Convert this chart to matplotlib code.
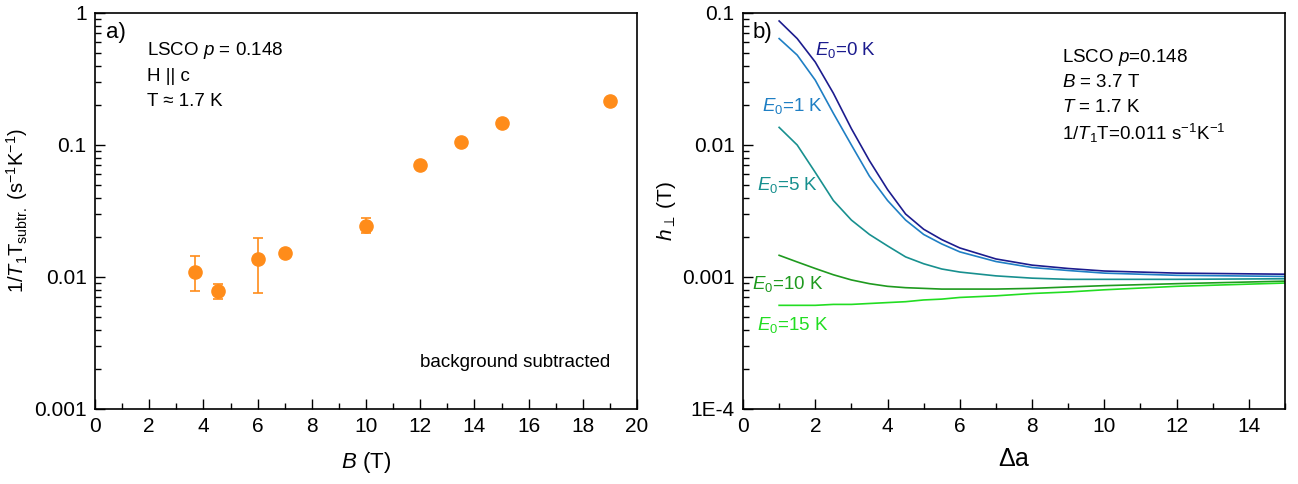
import matplotlib
matplotlib.use("Agg")
import matplotlib.pyplot as plt
import numpy as np
from matplotlib.ticker import FixedLocator, FixedFormatter, LogLocator, NullFormatter, MultipleLocator

plt.rcParams['font.family'] = ['Liberation Sans', 'DejaVu Sans']
plt.rcParams['mathtext.fontset'] = 'custom'
plt.rcParams['mathtext.rm'] = 'Liberation Sans'
plt.rcParams['mathtext.it'] = 'Liberation Sans:italic'
plt.rcParams['mathtext.bf'] = 'Liberation Sans:bold'

# Panel a data
B = [3.7, 4.55, 6.0, 7.0, 10.0, 12.0, 13.5, 15.0, 19.0]
rate = [0.011, 0.0078, 0.0137, 0.0153, 0.0245, 0.071, 0.105, 0.148, 0.215]
err_lo = [0.0078, 0.0068, 0.0075, 0.0153, 0.0215, 0.071, 0.105, 0.148, 0.215]
err_hi = [0.0143, 0.0089, 0.0197, 0.0153, 0.0280, 0.071, 0.105, 0.148, 0.215]

# Panel b data
da = [1, 1.5, 2, 2.5, 3, 3.5, 4, 4.5, 5, 5.5, 6, 7, 8, 9, 10, 12, 15]
h_E0 = [0.087, 0.064, 0.0425, 0.0247, 0.0133, 0.0076, 0.0046, 0.0030, 0.0023, 0.00192, 0.00166,
        0.00137, 0.00123, 0.00116, 0.00111, 0.00107, 0.00105]
h_E1 = [0.064, 0.048, 0.031, 0.0174, 0.0100, 0.0058, 0.0038, 0.0027, 0.0021, 0.00178, 0.00155,
        0.00131, 0.00118, 0.00112, 0.00107, 0.00103, 0.00101]
h_E5 = [0.0136, 0.0100, 0.0062, 0.0038, 0.0027, 0.0021, 0.00172, 0.00142, 0.00126, 0.00115, 0.00109,
        0.00102, 0.00098, 0.00096, 0.00096, 0.00096, 0.00097]
h_E10 = [0.00146, 0.0013, 0.00116, 0.00104, 0.00095, 0.00089, 0.00085, 0.00083, 0.00082, 0.00081, 0.00081,
         0.00081, 0.00082, 0.00084, 0.00086, 0.00089, 0.00093]
h_E15 = [0.00061, 0.00061, 0.00061, 0.00062, 0.00062, 0.00063, 0.00064, 0.00065, 0.00067, 0.00068, 0.00070,
         0.00072, 0.00075, 0.00077, 0.00080, 0.00085, 0.00090]
curve_labels = ['0', '1', '5', '10', '15']
curve_colors = ['#1c1c8e', '#1f7fc4', '#18908f', '#1f9a1f', '#22dd22']

fig = plt.figure(figsize=(12.98, 4.84), dpi=100)
ax1 = fig.add_axes([95/1298, 1-409/484, (637-95)/1298, (409-13)/484])
ax2 = fig.add_axes([743/1298, 1-409/484, (1285-743)/1298, (409-13)/484])

fs_txt = 13.5
orange = '#ff8c1a'
yerr = [np.array(rate) - np.array(err_lo), np.array(err_hi) - np.array(rate)]
ax1.errorbar(B, rate, yerr=yerr, fmt='o', color=orange, ms=9.5, capsize=3.5, elinewidth=1.2, capthick=1.2)
ax1.set_yscale('log')
ax1.set_ylim(0.001, 1)
ax1.set_xlim(0, 20)
ax1.xaxis.set_major_locator(MultipleLocator(2))
ax1.xaxis.set_minor_locator(MultipleLocator(1))
ax1.yaxis.set_major_locator(FixedLocator([0.001, 0.01, 0.1, 1]))
ax1.yaxis.set_major_formatter(FixedFormatter(['0.001', '0.01', '0.1', '1']))
ax1.yaxis.set_minor_locator(LogLocator(base=10, subs=np.arange(2, 10)))
ax1.yaxis.set_minor_formatter(NullFormatter())
ax1.set_xlabel(r'$\mathit{B}$ (T)', fontsize=16, labelpad=10)
ax1.set_ylabel(r'1/$\mathit{T}_1$T$_{\rm subtr.}$ (s$^{-1}$K$^{-1}$)', fontsize=14.5, labelpad=3)
ax1.text(0.021, 0.952, 'a)', transform=ax1.transAxes, fontsize=16, va='center')
ax1.text(0.096, 0.906, r'LSCO $\mathit{p}$ = 0.148', transform=ax1.transAxes, fontsize=fs_txt, va='center')
ax1.text(0.096, 0.840, 'H || c', transform=ax1.transAxes, fontsize=fs_txt, va='center')
ax1.text(0.096, 0.776, 'T ≈ 1.7 K', transform=ax1.transAxes, fontsize=fs_txt, va='center')
ax1.text(0.95, 0.118, 'background subtracted', transform=ax1.transAxes, fontsize=fs_txt, va='center', ha='right')

for h, c in zip([h_E0, h_E1, h_E5, h_E10, h_E15], curve_colors):
    ax2.plot(da, h, color=c, lw=1.2)
ax2.set_yscale('log')
ax2.set_ylim(1e-4, 0.1)
ax2.set_xlim(0, 15)
ax2.xaxis.set_major_locator(MultipleLocator(2))
ax2.xaxis.set_minor_locator(MultipleLocator(1))
ax2.yaxis.set_major_locator(FixedLocator([1e-4, 0.001, 0.01, 0.1]))
ax2.yaxis.set_major_formatter(FixedFormatter(['1E-4', '0.001', '0.01', '0.1']))
ax2.yaxis.set_minor_locator(LogLocator(base=10, subs=np.arange(2, 10)))
ax2.yaxis.set_minor_formatter(NullFormatter())
ax2.set_xlabel(r'$\Delta$a', fontsize=18, labelpad=8)
ax2.set_ylabel(r'$\mathit{h}_{\perp}$ (T)', fontsize=15, labelpad=3)
ax2.text(0.018, 0.952, 'b)', transform=ax2.transAxes, fontsize=16, va='center')

label_pos = [(2.0, 0.052), (0.52, 0.0197), (0.4, 0.005), (0.26, 0.00089), (0.38, 0.00043)]
for lab, (x, y), c in zip(curve_labels, label_pos, curve_colors):
    ax2.text(x, y, r'$\mathit{E}_0$=' + lab + ' K', color=c, fontsize=fs_txt, va='center')

ax2.text(0.589, 0.887, r'LSCO $\mathit{p}$=0.148', transform=ax2.transAxes, fontsize=fs_txt, va='center')
ax2.text(0.589, 0.824, r'$\mathit{B}$ = 3.7 T', transform=ax2.transAxes, fontsize=fs_txt, va='center')
ax2.text(0.589, 0.761, r'$\mathit{T}$ = 1.7 K', transform=ax2.transAxes, fontsize=fs_txt, va='center')
ax2.text(0.589, 0.696, r'1/$\mathit{T}_1$T=0.011 s$^{-1}$K$^{-1}$', transform=ax2.transAxes, fontsize=fs_txt, va='center')

for ax in (ax1, ax2):
    ax.tick_params(which='both', direction='in', top=False, right=False, labelsize=15)
    ax.tick_params(axis='x', which='both', pad=6)
    ax.tick_params(axis='y', which='both', pad=6)
    ax.tick_params(which='major', length=7, width=1)
    ax.tick_params(which='minor', length=4, width=1)
    for s in ax.spines.values():
        s.set_linewidth(1.2)

fig.savefig('out.png', dpi=100)
